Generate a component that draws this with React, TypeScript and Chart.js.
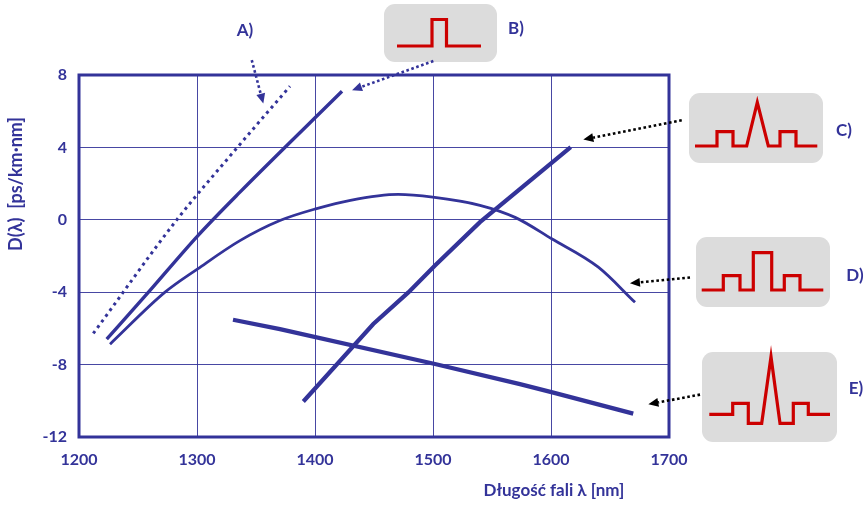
import React, { useEffect, useRef } from 'react';
import { Chart, registerables } from 'chart.js';
Chart.register(...registerables);

const BLUE = '#333399';
const RED = '#cc0000';
const FONT = 'Lato, "Open Sans", sans-serif';

// axis ticks
const xTicks = [1200, 1300, 1400, 1500, 1600, 1700];
const yTicks = [-12, -8, -4, 0, 4, 8];

// series (wavelength nm, dispersion ps/km·nm)
const aX = [1212.1, 1283.6, 1330.8, 1378.8];
const aY = [-6.28, 0.06, 3.74, 7.38];
const bX = [1223.5, 1258.7, 1300.8, 1336.4, 1422.9];
const bY = [-6.59, -4.01, -0.87, 1.53, 7.1];
const cX = [1390.1, 1449.4, 1479.1, 1501.7, 1539.8, 1616.7];
const cY = [-10.04, -5.76, -4.01, -2.53, -0.13, 4.02];
const dX = [1226.3, 1272.9, 1300.6, 1336.4, 1370.3, 1401.4, 1430, 1470.6, 1499.8, 1539.8, 1570, 1600.6, 1640.1, 1671.2];
const dY = [-6.87, -4.0, -2.71, -1.15, -0.04, 0.62, 1.08, 1.4, 1.25, 0.8, 0.12, -1.05, -2.62, -4.56];
const eX = [1330.5, 1370.3, 1501.7, 1573.7, 1602, 1669.7];
const eY = [-5.52, -6.04, -7.97, -9.08, -9.55, -10.71];

// annotation labels
const labels = ['A)', 'B)', 'C)', 'D)', 'E)'];
// arrows in data coordinates (tail -> tip)
const arrowFrom = [[1346.4, 8.82], [1500.3, 8.77], [1710.8, 5.5], [1717.8, -3.19], [1726.3, -9.66]];
const arrowTo = [[1356.2, 6.42], [1431.4, 7.16], [1627.4, 4.43], [1666.9, -3.51], [1682.5, -10.19]];
const arrowColors = [BLUE, BLUE, '#000000', '#000000', '#000000'];

const xTitle = 'Długość fali λ [nm]';
const yTitle = 'D(λ)  [ps/km·nm]';

// layout of decorations (pixels)
const labelPos = [[245, 31], [516, 29], [844, 130.5], [855, 276], [856, 389]];
const boxes = [
  null,
  { x: 384, y: 4, w: 113, h: 58 },
  { x: 689, y: 93, w: 134, h: 70 },
  { x: 696, y: 237, w: 134, h: 70 },
  { x: 702, y: 352, w: 135, h: 90 },
];
const pulses: number[][][] = [
  [],
  [[397, 46], [432, 46], [432, 19.5], [446.5, 19.5], [446.5, 46], [481, 46]],
  [[695, 146], [717, 146], [717, 131.7], [733, 131.7], [733, 146], [746.7, 146], [757.3, 102.3], [768.3, 146], [780, 146], [780, 131.7], [796, 131.7], [796, 146], [817.3, 146]],
  [[701.7, 290], [723.3, 290], [723.3, 275.7], [740, 275.7], [740, 290], [753.3, 290], [753.3, 252.7], [771.7, 252.7], [771.7, 290], [784.3, 290], [784.3, 275.7], [800, 275.7], [800, 290], [823.3, 290]],
  [[709.3, 414.3], [732.7, 414.3], [732.7, 403.3], [748.3, 403.3], [748.3, 423.3], [761.7, 423.3], [771, 356.7], [780, 423.3], [793.3, 423.3], [793.3, 403.3], [808.3, 403.3], [808.3, 414.3], [830, 414.3]],
];

const pts = (xs: number[], ys: number[]) => xs.map((x, i) => ({ x, y: ys[i] }));

function roundRect(ctx: CanvasRenderingContext2D, x: number, y: number, w: number, h: number, r: number) {
  ctx.beginPath();
  ctx.moveTo(x + r, y);
  ctx.arcTo(x + w, y, x + w, y + h, r);
  ctx.arcTo(x + w, y + h, x, y + h, r);
  ctx.arcTo(x, y + h, x, y, r);
  ctx.arcTo(x, y, x + w, y, r);
  ctx.closePath();
}

const decoPlugin = {
  id: 'deco',
  beforeDatasetsDraw(chart: any) {
    const { ctx, chartArea: a } = chart;
    ctx.save();
    ctx.strokeStyle = BLUE;
    ctx.lineWidth = 3;
    ctx.strokeRect(a.left, a.top, a.right - a.left, a.bottom - a.top);
    ctx.restore();
  },
  afterDraw(chart: any) {
    const { ctx, scales } = chart;
    const xs = scales.x, ys = scales.y;
    ctx.save();
    // boxes with pulses
    boxes.forEach((b, i) => {
      if (!b) return;
      ctx.fillStyle = '#dcdcdc';
      roundRect(ctx, b.x, b.y, b.w, b.h, 11);
      ctx.fill();
      ctx.strokeStyle = RED;
      ctx.lineWidth = 3.2;
      ctx.lineJoin = 'miter';
      ctx.beginPath();
      pulses[i].forEach((p, k) => (k ? ctx.lineTo(p[0], p[1]) : ctx.moveTo(p[0], p[1])));
      ctx.stroke();
    });
    // arrows
    arrowFrom.forEach((f, i) => {
      const t = arrowTo[i];
      const x0 = xs.getPixelForValue(f[0]), y0 = ys.getPixelForValue(f[1]);
      const x1 = xs.getPixelForValue(t[0]), y1 = ys.getPixelForValue(t[1]);
      const dx = x1 - x0, dy = y1 - y0;
      const len = Math.hypot(dx, dy);
      const ux = dx / len, uy = dy / len;
      const head = 10, hw = 4.5;
      const bx = x1 - ux * head, by = y1 - uy * head;
      ctx.strokeStyle = arrowColors[i];
      ctx.fillStyle = arrowColors[i];
      ctx.lineWidth = 2.6;
      ctx.setLineDash([2.6, 2.6]);
      ctx.beginPath();
      ctx.moveTo(x0, y0);
      ctx.lineTo(bx, by);
      ctx.stroke();
      ctx.setLineDash([]);
      ctx.beginPath();
      ctx.moveTo(x1, y1);
      ctx.lineTo(bx - uy * hw, by + ux * hw);
      ctx.lineTo(bx + uy * hw, by - ux * hw);
      ctx.closePath();
      ctx.fill();
    });
    // labels
    ctx.fillStyle = BLUE;
    ctx.font = `bold 17px ${FONT}`;
    ctx.textAlign = 'center';
    ctx.textBaseline = 'middle';
    labels.forEach((l, i) => ctx.fillText(l, labelPos[i][0], labelPos[i][1]));
    // axis titles
    ctx.font = `bold 17px ${FONT}`;
    ctx.fillText(xTitle, 554, 491);
    ctx.font = `bold 18px ${FONT}`;
    ctx.translate(16, 0);
    ctx.rotate(-Math.PI / 2);
    ctx.textAlign = 'right';
    ctx.fillText(yTitle, -117, 0);
    ctx.restore();
  },
};

export default function App() {
  const ref = useRef<HTMLCanvasElement>(null);
  useEffect(() => {
    if (!ref.current) return;
    const common = { pointRadius: 0, borderColor: BLUE, fill: false, borderCapStyle: 'butt' as const };
    const chart = new Chart(ref.current, {
      type: 'line',
      data: {
        datasets: [
          { ...common, data: pts(aX, aY), borderWidth: 3, borderDash: [3, 4], cubicInterpolationMode: 'monotone' },
          { ...common, data: pts(bX, bY), borderWidth: 3.4, cubicInterpolationMode: 'monotone' },
          { ...common, data: pts(cX, cY), borderWidth: 4.2, tension: 0 },
          { ...common, data: pts(dX, dY), borderWidth: 2.8, cubicInterpolationMode: 'monotone' },
          { ...common, data: pts(eX, eY), borderWidth: 4.2, tension: 0 },
        ],
      },
      options: {
        responsive: false,
        animation: false,
        events: [],
        layout: { padding: { top: 75, right: 197, left: 0, bottom: 0 } },
        plugins: { legend: { display: false }, tooltip: { enabled: false }, title: { display: false } },
        scales: {
          x: {
            type: 'linear',
            min: xTicks[0],
            max: xTicks[xTicks.length - 1],
            afterBuildTicks: (s: any) => { s.ticks = xTicks.map((v) => ({ value: v })); },
            afterFit: (s: any) => { s.height = 73; },
            grid: { color: 'rgba(51,51,153,0.9)', lineWidth: 1, drawTicks: false },
            border: { display: false },
            ticks: { color: BLUE, padding: 13, callback: (v: any) => String(v), font: { family: FONT, weight: 'bold', size: 16 }, maxRotation: 0 },
          },
          y: {
            type: 'linear',
            min: yTicks[0],
            max: yTicks[yTicks.length - 1],
            afterBuildTicks: (s: any) => { s.ticks = yTicks.map((v) => ({ value: v })); },
            afterFit: (s: any) => { s.width = 79; },
            grid: { color: 'rgba(51,51,153,0.9)', lineWidth: 1, drawTicks: false },
            border: { display: false },
            ticks: { color: BLUE, padding: 12, callback: (v: any) => String(v), font: { family: FONT, weight: 'bold', size: 16 } },
          },
        },
      },
      plugins: [decoPlugin],
    } as any);
    return () => chart.destroy();
  }, []);
  return (
    <div style={{ position: 'absolute', left: 0, top: 0, width: 866, height: 510, background: '#fff' }}>
      <canvas ref={ref} width={866} height={510} style={{ display: 'block' }} />
    </div>
  );
}
